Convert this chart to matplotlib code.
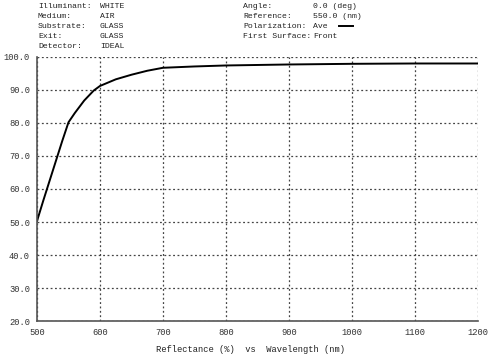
import numpy as np
import matplotlib
matplotlib.use("Agg")
import matplotlib.pyplot as plt

# Reflectance curve
wavelength = [500, 510, 520, 530, 540, 550, 560, 575, 590, 600, 625, 650, 675, 700, 750, 800, 900, 1000, 1100, 1200]
reflectance = [50.3, 56.5, 62.5, 68.5, 74.5, 80.2, 83.0, 86.8, 89.8, 91.2, 93.2, 94.6, 95.8, 96.7, 97.1, 97.4, 97.7, 97.9, 98.0, 98.0]

x_ticks = [500, 600, 700, 800, 900, 1000, 1100, 1200]
y_ticks = [20, 30, 40, 50, 60, 70, 80, 90, 100]

left_labels = ["Illuminant:", "Medium:", "Substrate:", "Exit:", "Detector:"]
left_values = ["WHITE", "AIR", "GLASS", "GLASS", "IDEAL"]
right_labels = ["Angle:", "Reference:", "Polarization:", "First Surface:"]
right_values = ["0.0 (deg)", "550.0 (nm)", "Ave", "Front"]

font = "Liberation Mono"
fs_head = 5.9
fs_axis = 6.3

fig = plt.figure(figsize=(5, 3.6), dpi=100)
ax = fig.add_axes([0.074, 0.108, 0.882, 0.734])

ax.plot(wavelength, reflectance, color="black", linewidth=1.4)

ax.set_xlim(500, 1200)
ax.set_ylim(20, 100)
ax.set_xticks(x_ticks)
ax.set_yticks(y_ticks)
ax.set_xticklabels([str(v) for v in x_ticks], fontfamily=font, fontsize=fs_axis)
ax.set_yticklabels(["%.1f" % v for v in y_ticks], fontfamily=font, fontsize=fs_axis)
ax.tick_params(length=0, pad=5, colors="#333333")

ax.grid(True, linestyle=(0, (1.5, 2)), color="#444444", linewidth=0.9)
for side in ["top", "right"]:
    ax.spines[side].set_visible(False)
for side in ["left", "bottom"]:
    ax.spines[side].set_color("#555555")
    ax.spines[side].set_linewidth(1.2)

# header block
row_y = [6, 16, 26, 36, 46]
for i, (lab, val) in enumerate(zip(left_labels, left_values)):
    y = 1 - row_y[i] / 360
    fig.text(38 / 500, y, lab, fontfamily=font, fontsize=fs_head, va="center", color="#222222")
    fig.text(100 / 500, y, val, fontfamily=font, fontsize=fs_head, va="center", color="#222222")
for i, (lab, val) in enumerate(zip(right_labels, right_values)):
    y = 1 - row_y[i] / 360
    fig.text(243 / 500, y, lab, fontfamily=font, fontsize=fs_head, va="center", color="#222222")
    fig.text(313 / 500, y, val, fontfamily=font, fontsize=fs_head, va="center", color="#222222")

# legend line next to "Ave"
fig.add_artist(plt.Line2D([339 / 500, 353 / 500], [1 - 26 / 360, 1 - 26 / 360], color="black", linewidth=1.4))

fig.text(251 / 500, 1 - 350 / 360, "Reflectance (%)  vs  Wavelength (nm)",
         fontfamily=font, fontsize=fs_axis, ha="center", va="center", color="#222222")

fig.savefig("out.png", dpi=100)
